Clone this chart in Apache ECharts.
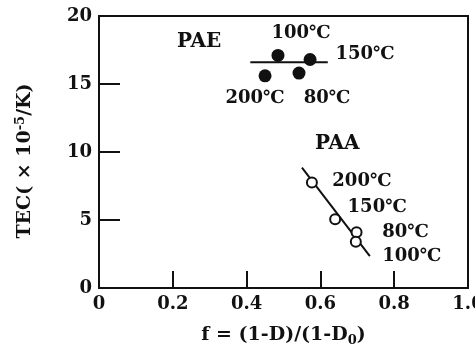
<!DOCTYPE html>
<html>
<head>
<meta charset="utf-8">
<script src="https://cdn.jsdelivr.net/npm/echarts@6/dist/echarts.min.js"></script>
<style>
  html, body { margin: 0; padding: 0; background: #fff; }
  #chart { width: 475px; height: 346px; }
</style>
</head>
<body>
<div id="chart"></div>
<script>
// f = (1-D)/(1-D0) vs TEC (x 10^-5 /K)
const paeF = [0.485, 0.572, 0.45, 0.542];
const paeTec = [17.1, 16.8, 15.6, 15.8];
const paeTemps = ['100℃', '150℃', '200℃', '80℃'];
const paeFitF = [0.41, 0.62];
const paeFitTec = [16.6, 16.6];

const paaF = [0.577, 0.64, 0.698, 0.696];
const paaTec = [7.75, 5.05, 4.1, 3.4];
const paaTemps = ['200℃', '150℃', '80℃', '100℃'];
const paaFitF = [0.55, 0.734];
const paaFitTec = [8.85, 2.35];

const xTicks = [0, 0.2, 0.4, 0.6, 0.8, 1.0];
const yTicks = [0, 5, 10, 15, 20];

// label placement (pixels from the point)
const paeOffsets = [[23, -22], [55, -5], [-10, 22], [28, 25]];
const paaOffsets = [[50, -1], [42, -12], [49, 0], [56, 15]];

const FONT = '"DejaVu Serif", "Liberation Serif", serif';
const black = '#111';

const pts = (xs, ys, labels, offs) => xs.map((x, i) => ({
    value: [x, ys[i]],
    label: { show: true, formatter: labels[i], position: 'inside', offset: offs[i] },
}));

const labelStyle = {
    color: black,
    fontFamily: FONT,
    fontWeight: 'bold',
    fontSize: 18,
};

const chart = echarts.init(document.getElementById('chart'));
chart.setOption({
    animation: false,
    grid: {
        left: 99, right: 7, top: 16, bottom: 58,
        containLabel: false,
        outerBoundsMode: 'none',
        show: true, borderColor: black, borderWidth: 2,
    },
    xAxis: {
        type: 'value',
        min: xTicks[0],
        max: xTicks[xTicks.length - 1],
        interval: 0.2,
        axisLine: { lineStyle: { color: black, width: 2 } },
        axisTick: { inside: true, length: 17, lineStyle: { color: black, width: 2 } },
        splitLine: { show: false },
        axisLabel: {
            color: black, fontFamily: FONT, fontWeight: 'bold', fontSize: 18, margin: 7,
            formatter: v => (v === 0 ? '0' : v.toFixed(1)),
        },
        name: '{b|f = (1-D)/(1-D}{s|0}{b|)}',
        nameLocation: 'middle',
        nameGap: 36,
        nameTextStyle: {
            rich: {
                b: { color: black, fontFamily: FONT, fontWeight: 'bold', fontSize: 19 },
                s: { color: black, fontFamily: FONT, fontWeight: 'bold', fontSize: 13, padding: [10, 0, 0, 0] },
            },
        },
    },
    yAxis: {
        type: 'value',
        min: yTicks[0],
        max: yTicks[yTicks.length - 1],
        interval: 5,
        axisLine: { lineStyle: { color: black, width: 2 } },
        axisTick: { inside: true, length: 21, lineStyle: { color: black, width: 2 } },
        splitLine: { show: false },
        axisLabel: { color: black, fontFamily: FONT, fontWeight: 'bold', fontSize: 18, margin: 7 },
        name: '{b|TEC( × 10}{s|-5}{b|/K)}',
        nameLocation: 'middle',
        nameGap: 62,
        nameTextStyle: {
            padding: [0, 18, 0, 0],
            rich: {
                b: { color: black, fontFamily: FONT, fontWeight: 'bold', fontSize: 19 },
                s: { color: black, fontFamily: FONT, fontWeight: 'bold', fontSize: 13, padding: [0, 0, 10, 0] },
            },
        },
    },
    series: [
        {
            type: 'line',
            data: paeFitF.map((x, i) => [x, paeFitTec[i]]),
            symbol: 'none',
            lineStyle: { color: black, width: 2 },
            z: 1,
        },
        {
            type: 'line',
            data: paaFitF.map((x, i) => [x, paaFitTec[i]]),
            symbol: 'none',
            lineStyle: { color: black, width: 2 },
            z: 1,
        },
        {
            type: 'scatter',
            data: pts(paeF, paeTec, paeTemps, paeOffsets),
            symbolSize: 13,
            itemStyle: { color: black, opacity: 1 },
            label: labelStyle,
            z: 2,
        },
        {
            type: 'scatter',
            data: pts(paaF, paaTec, paaTemps, paaOffsets),
            symbolSize: 10,
            itemStyle: { color: '#fff', borderColor: black, borderWidth: 2, opacity: 1 },
            label: labelStyle,
            z: 2,
        },
    ],
    graphic: [
        { type: 'text', left: 177, top: 32, style: { text: 'PAE', fill: black, font: 'bold 20px ' + FONT } },
        { type: 'text', left: 315, top: 134, style: { text: 'PAA', fill: black, font: 'bold 20px ' + FONT } },
    ],
});
</script>
</body>
</html>
